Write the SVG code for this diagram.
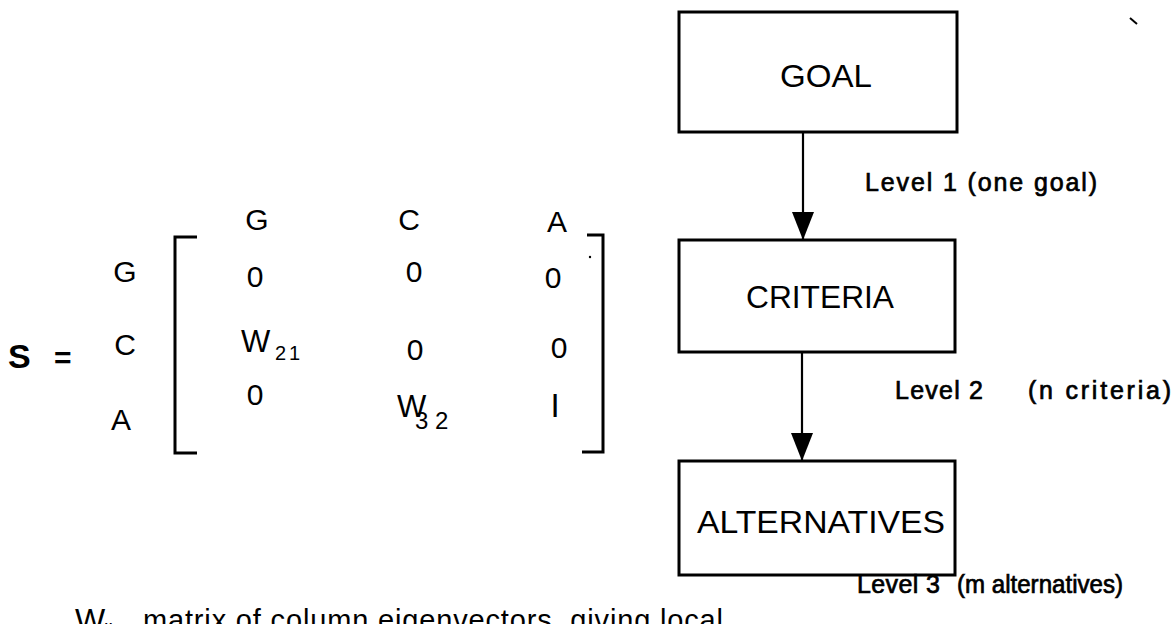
<svg xmlns="http://www.w3.org/2000/svg" width="1175" height="624" viewBox="0 0 1175 624">
  <style>
    text { font-family: "Liberation Sans", Arial, Helvetica, sans-serif; fill: #000; }
    .box { fill: #fff; stroke: #000; stroke-width: 3; }
    .lbl { font-size: 31px; text-anchor: middle; }
    .lvl { font-size: 25px; stroke: #000; stroke-width: 0.7; }
    .mx { font-size: 30px; text-anchor: middle; }
    .edge { stroke: #000; stroke-width: 2.2; fill: none; }
    .brk { stroke: #000; stroke-width: 3; fill: none; }
  </style>
  <defs>
    <!-- solid triangular head, drawn along +x and turned with the line -->
    <marker id="head" viewBox="0 0 28 22" refX="28" refY="11" markerWidth="28" markerHeight="22" markerUnits="userSpaceOnUse" orient="auto">
      <path d="M0,0 L28,11 L0,22 Z" fill="#000"/>
    </marker>
  </defs>

  <rect width="1175" height="624" fill="#fff"/>

  <!-- supermatrix S -->
  <g id="matrix">
    <text x="8" y="368" style="font-size:34px;font-weight:bold">S</text>
    <text x="54" y="368" style="font-size:30px;font-weight:bold">=</text>

    <!-- column heads -->
    <text class="mx" x="257" y="230">G</text>
    <text class="mx" x="409" y="230">C</text>
    <text class="mx" x="557" y="232">A</text>

    <!-- row heads -->
    <text class="mx" x="125" y="282">G</text>
    <text class="mx" x="125" y="355">C</text>
    <text class="mx" x="121" y="430">A</text>

    <!-- brackets -->
    <path class="brk" d="M197,237 H175 V453 H197"/>
    <path class="brk" d="M587,235 H603 V452 H582"/>
    <circle cx="590" cy="257" r="1.2" fill="#000"/>

    <!-- entries -->
    <text class="mx" x="255" y="287">0</text>
    <text class="mx" x="414" y="282">0</text>
    <text class="mx" x="553" y="288">0</text>

    <text x="241" y="352" style="font-size:31px">W</text>
    <text x="275 289" y="360" style="font-size:20px">21</text>
    <text class="mx" x="415" y="360">0</text>
    <text class="mx" x="559" y="358">0</text>

    <text class="mx" x="255" y="405">0</text>
    <text x="397" y="417" style="font-size:31px">W</text>
    <text x="415 435" y="429" style="font-size:24px">32</text>
    <text class="mx" x="555" y="417" style="font-size:33px">I</text>
  </g>

  <!-- hierarchy nodes -->
  <g id="goal">
    <rect class="box" x="679" y="12" width="278" height="120"/>
    <text class="lbl" x="826" y="87" textLength="92" lengthAdjust="spacingAndGlyphs">GOAL</text>
  </g>
  <g id="criteria">
    <rect class="box" x="679" y="240" width="276" height="112"/>
    <text class="lbl" x="820" y="308" textLength="148" lengthAdjust="spacingAndGlyphs">CRITERIA</text>
  </g>
  <g id="alternatives">
    <rect class="box" x="679" y="461" width="276" height="114"/>
    <text class="lbl" x="821" y="533" textLength="248" lengthAdjust="spacingAndGlyphs">ALTERNATIVES</text>
  </g>

  <!-- connectors -->
  <g id="connectors">
    <line class="edge" x1="803" y1="132" x2="803" y2="240" marker-end="url(#head)"/>
    <line class="edge" x1="802" y1="352" x2="802" y2="461" marker-end="url(#head)"/>
  </g>

  <!-- level captions -->
  <g id="levels">
    <text class="lvl" x="865" y="191" textLength="232" lengthAdjust="spacing">Level 1 (one goal)</text>
    <text class="lvl" x="895" y="399" textLength="88" lengthAdjust="spacing">Level 2</text>
    <text class="lvl" x="1028" y="399" textLength="143" lengthAdjust="spacing">(n criteria)</text>
    <text class="lvl" x="857" y="593" textLength="83" lengthAdjust="spacing">Level 3</text>
    <text class="lvl" x="957" y="593" textLength="166" lengthAdjust="spacingAndGlyphs">(m alternatives)</text>
  </g>

  <!-- legend line, running past the lower edge -->
  <g id="legend">
    <text x="75" y="631" style="font-size:32px">W</text>
    <text x="104" y="638" style="font-size:20px">ij</text>
    <text x="143" y="630" style="font-size:29px" textLength="580" lengthAdjust="spacing">matrix of column eigenvectors, giving local</text>
  </g>

  <!-- stray stroke, upper right -->
  <line x1="1130" y1="18" x2="1137" y2="24" stroke="#000" stroke-width="2"/>
</svg>
